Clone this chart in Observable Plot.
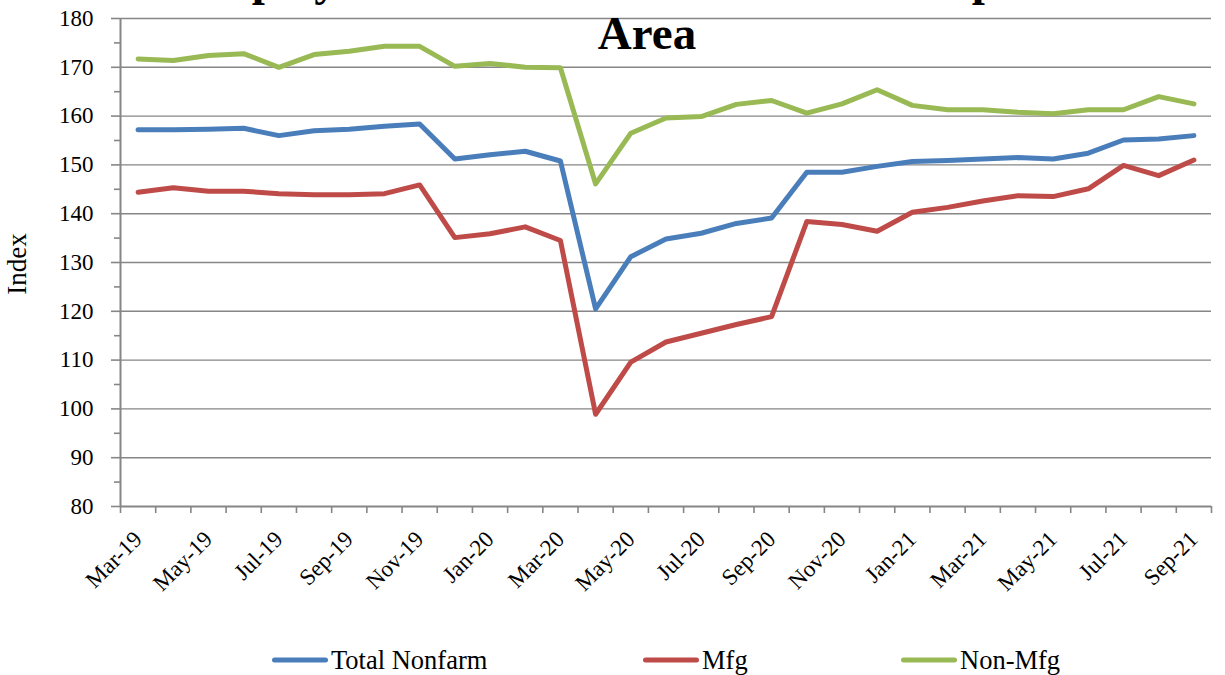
<!DOCTYPE html>
<html>
<head>
<meta charset="utf-8">
<script src="https://cdn.jsdelivr.net/npm/d3@7"></script>
<script src="https://cdn.jsdelivr.net/npm/@observablehq/plot@0.6"></script>
<style>
  html, body { margin: 0; padding: 0; background: #fff; }
  #wrap { position: relative; width: 1225px; height: 675px; overflow: hidden; font-family: "Liberation Serif", serif; }
  #chart { position: absolute; left: 0; top: 0; }
  #chart svg, #chart svg text { font-family: "Liberation Serif", serif; }
  #title { position: absolute; left: 647px; top: -48px; transform: translateX(-50%); white-space: nowrap; text-align: center;
           font-size: 47px; font-weight: bold; line-height: 54px; color: #000; z-index: 2; }
  #ylabel { position: absolute; left: 17px; top: 264px; transform: translate(-50%, -50%) rotate(-90deg); font-size: 27px; color: #000; white-space: nowrap; }
  .leg { position: absolute; top: 660px; transform: translateY(-50%); display: flex; align-items: center; font-size: 26.5px; color: #000; white-space: nowrap; }
  .sw { display: inline-block; width: 56px; height: 5px; border-radius: 3px; margin-right: 3px; }
</style>
</head>
<body>
<div id="wrap">
  <div id="chart"></div>
  <div id="title">Employment Index for the Local Metropolitan<br>Area</div>
  <div id="ylabel">Index</div>
</div>
<script>
// ---- Data ----
const months = ["Mar-19","Apr-19","May-19","Jun-19","Jul-19","Aug-19","Sep-19","Oct-19","Nov-19","Dec-19",
  "Jan-20","Feb-20","Mar-20","Apr-20","May-20","Jun-20","Jul-20","Aug-20","Sep-20","Oct-20","Nov-20","Dec-20",
  "Jan-21","Feb-21","Mar-21","Apr-21","May-21","Jun-21","Jul-21","Aug-21","Sep-21"];
const totalNonfarm = [157.2,157.2,157.3,157.5,156.0,157.0,157.3,157.9,158.4,151.2,
  152.1,152.8,150.8,120.5,131.2,134.8,136.0,138.0,139.1,148.5,148.5,149.7,
  150.7,150.9,151.2,151.5,151.2,152.4,155.1,155.3,156.0];
const mfg = [144.4,145.3,144.6,144.6,144.1,143.9,143.9,144.1,145.9,135.1,
  135.9,137.3,134.5,98.9,109.6,113.7,115.5,117.3,118.9,138.4,137.8,136.4,
  140.3,141.3,142.6,143.7,143.5,145.1,149.9,147.8,151.0];
const nonMfg = [171.7,171.4,172.4,172.8,170.0,172.6,173.3,174.3,174.3,170.2,
  170.8,170.0,169.9,146.1,156.5,159.6,159.9,162.4,163.2,160.6,162.5,165.4,
  162.2,161.3,161.3,160.8,160.5,161.3,161.3,164.0,162.5];
const seriesNames = ["Total Nonfarm","Mfg","Non-Mfg"];
const seriesValues = [totalNonfarm, mfg, nonMfg];
const yMajorTicks = [80,90,100,110,120,130,140,150,160,170,180];
const yMinorTicks = [85,95,105,115,125,135,145,155,165,175];
const xLabelIndex = d3.range(0, months.length, 2);

// ---- Styles ----
const colors = ["#4a7ebb", "#be4b48", "#98b954"];
const gray = "#868686";
const serif = "Liberation Serif";

const rows = seriesNames.flatMap((s, k) => seriesValues[k].map((v, i) => ({series: s, i, month: months[i], value: v})));
const boundaries = d3.range(-0.5, months.length, 1);

const chart = Plot.plot({
  width: 1225,
  height: 625,
  marginLeft: 120,
  marginRight: 14,
  marginTop: 18,
  marginBottom: 119,
  style: {fontFamily: serif, background: "#fff", color: "#000"},
  x: {type: "linear", domain: [-0.5, months.length - 0.5]},
  y: {domain: [80, 180]},
  color: {domain: seriesNames, range: colors},
  marks: [
    Plot.gridY(yMajorTicks.filter(d => d > 80), {stroke: gray, strokeOpacity: 1, strokeWidth: 1.4}),
    Plot.axisY(yMajorTicks, {tickSize: 9, tickFormat: () => "", stroke: gray, strokeWidth: 1.6, label: null}),
    Plot.axisY(yMinorTicks, {tickSize: 6, tickFormat: () => "", stroke: gray, strokeWidth: 1.6, label: null}),
    Plot.axisY(yMajorTicks, {tickSize: 0, tickPadding: 27, fontSize: 23, fontFamily: serif, fill: "#000", label: null}),
    Plot.axisX(boundaries, {tickSize: 7, tickFormat: () => "", stroke: gray, strokeWidth: 1.6, label: null}),
    Plot.axisX(xLabelIndex, {tickSize: 0, tickPadding: 29, tickRotate: -45, tickFormat: i => months[i], fontSize: 23, fontFamily: serif, fill: "#000", label: null}),
    Plot.ruleX([-0.5], {stroke: gray, strokeWidth: 2}),
    Plot.ruleY([80], {stroke: gray, strokeWidth: 2}),
    Plot.line(rows, {x: "i", y: "value", z: "series", stroke: "series", strokeWidth: 5, strokeLinejoin: "round", strokeLinecap: "round"})
  ]
});
document.getElementById("chart").appendChild(chart);

// ---- Legend (HTML, below the SVG) ----
const legendLeft = [272, 643, 901];
const wrap = document.getElementById("wrap");
seriesNames.forEach((name, k) => {
  const item = document.createElement("div");
  item.className = "leg";
  item.style.left = legendLeft[k] + "px";
  const sw = document.createElement("span");
  sw.className = "sw";
  sw.style.background = colors[k];
  const tx = document.createElement("span");
  tx.textContent = name;
  item.appendChild(sw);
  item.appendChild(tx);
  wrap.appendChild(item);
});
</script>
</body>
</html>
